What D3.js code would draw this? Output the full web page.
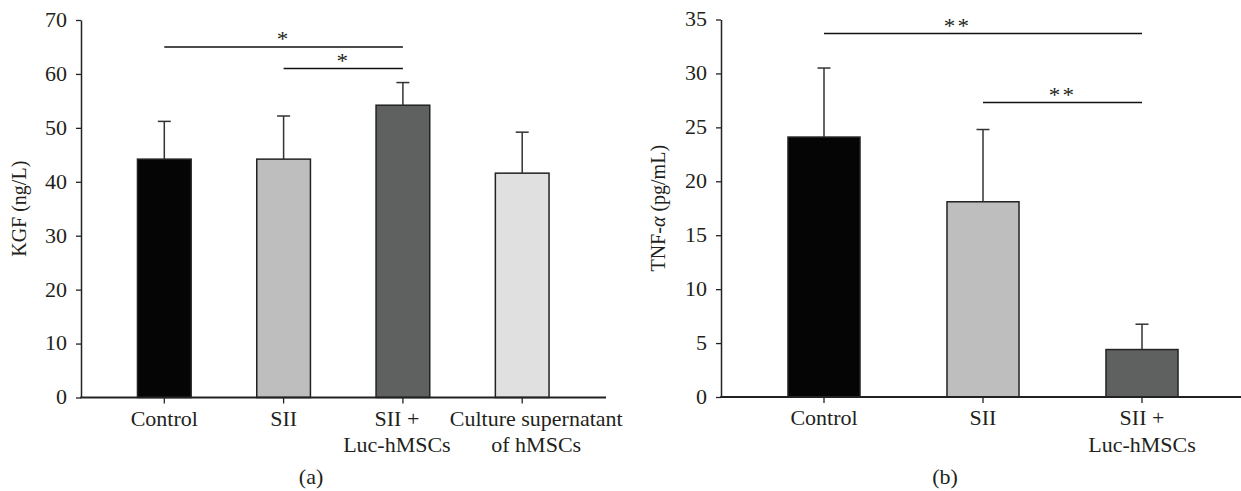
<!DOCTYPE html>
<html>
<head>
<meta charset="utf-8">
<script src="https://cdn.jsdelivr.net/npm/d3@7"></script>
<style>
  body { margin: 0; background: #fff; }
  svg { display: block; }
  text { font-family: "Liberation Serif", "Times New Roman", serif; fill: #231f20; }
</style>
</head>
<body>
<svg id="chart" width="1241" height="491"></svg>
<script>
// panel (a) KGF
const kgfCategories = ["Control", "SII", "SII +\nLuc-hMSCs", "Culture supernatant\nof hMSCs"];
const kgfMeans = [44.2, 44.2, 54.2, 41.6];
const kgfSD = [7.0, 8.0, 4.2, 7.6];
const kgfTicks = [0, 10, 20, 30, 40, 50, 60, 70];
const kgfSig = [
  { from: 0, to: 2, y: 65, label: "*", at: 0.5 },
  { from: 1, to: 2, y: 61, label: "*", at: 0.5 }
];

// panel (b) TNF-alpha
const tnfCategories = ["Control", "SII", "SII +\nLuc-hMSCs"];
const tnfMeans = [24.1, 18.1, 4.4];
const tnfSD = [6.4, 6.7, 2.35];
const tnfTicks = [0, 5, 10, 15, 20, 25, 30, 35];
const tnfSig = [
  { from: 0, to: 2, y: 33.7, label: "**", at: 0.42 },
  { from: 1, to: 2, y: 27.3, label: "**", at: 0.5 }
];

const fills = ["#050505", "#bebebe", "#5f6160", "#e0e0e0"];
const SX = 1.1; // horizontal widening of the serif text

const svg = d3.select("#chart");

function drawPanel(p) {
  const g = svg.append("g");

  const y = d3.scaleLinear().domain([0, p.yMax]).range([p.bottom, p.top]);
  const x = d3.scaleBand()
    .domain(p.categories)
    .range(p.bandRange)
    .paddingInner(p.pad)
    .paddingOuter(p.pad / 2);
  const cx = d => x(d) + x.bandwidth() / 2;

  // bars
  g.selectAll(".bar")
    .data(p.categories)
    .join("rect")
    .attr("class", "bar")
    .attr("x", d => x(d))
    .attr("y", (d, i) => y(p.means[i]))
    .attr("width", x.bandwidth())
    .attr("height", (d, i) => y(0) - y(p.means[i]))
    .attr("fill", (d, i) => fills[i])
    .attr("stroke", "#222")
    .attr("stroke-width", 1.5);

  // error bars (upper only)
  const err = g.selectAll(".err")
    .data(p.categories)
    .join("g")
    .attr("class", "err")
    .attr("stroke", "#333")
    .attr("stroke-width", 1.5);
  err.append("line")
    .attr("x1", d => cx(d)).attr("x2", d => cx(d))
    .attr("y1", (d, i) => y(p.means[i]))
    .attr("y2", (d, i) => y(p.means[i] + p.sd[i]));
  err.append("line")
    .attr("x1", d => cx(d) - 6.5).attr("x2", d => cx(d) + 6.5)
    .attr("y1", (d, i) => y(p.means[i] + p.sd[i]))
    .attr("y2", (d, i) => y(p.means[i] + p.sd[i]));

  // y axis
  const yAxis = g.append("g")
    .attr("transform", `translate(${p.left},0)`)
    .call(d3.axisLeft(y).tickValues(p.ticks).tickSize(5).tickSizeOuter(0).tickPadding(9));
  yAxis.attr("font-family", null).attr("font-size", null);
  yAxis.select(".domain").attr("stroke", "#222").attr("stroke-width", 1.5);
  yAxis.selectAll(".tick line").attr("stroke", "#222").attr("stroke-width", 1.3);
  yAxis.selectAll(".tick text")
    .attr("font-size", 20)
    .attr("fill", "#231f20")
    .attr("x", -14 / SX)
    .attr("transform", `scale(${SX},1)`);

  // x axis
  const xAxis = g.append("g")
    .attr("transform", `translate(0,${y(0)})`)
    .call(d3.axisBottom(x).tickSize(6).tickSizeOuter(0).tickFormat(""));
  xAxis.select(".domain").remove();
  xAxis.selectAll(".tick line").attr("stroke", "#222").attr("stroke-width", 1.3);
  g.append("line")
    .attr("x1", p.left - 0.75).attr("x2", p.right)
    .attr("y1", y(0)).attr("y2", y(0))
    .attr("stroke", "#222").attr("stroke-width", 2);

  // category labels, may be two lines
  p.categories.forEach(c => {
    const t = g.append("text")
      .attr("text-anchor", "middle")
      .attr("font-size", 20)
      .attr("transform", `translate(${cx(c) + (p.labelNudge[c] || 0)},${y(0) + 28}) scale(${SX},1)`);
    c.split("\n").forEach((line, i) => {
      t.append("tspan").attr("x", 0).attr("y", i * 27).text(line);
    });
  });

  // y axis title
  const yt = g.append("text")
    .attr("text-anchor", "middle")
    .attr("font-size", 20)
    .attr("transform", `translate(${p.titleX},${(p.top + p.bottom) / 2}) rotate(-90)`);
  p.title.forEach(part => {
    yt.append("tspan").attr("font-style", part.italic ? "italic" : null).text(part.text);
  });

  // significance brackets
  p.sig.forEach(s => {
    const x1 = cx(p.categories[s.from]);
    const x2 = cx(p.categories[s.to]);
    g.append("line")
      .attr("x1", x1).attr("x2", x2)
      .attr("y1", y(s.y)).attr("y2", y(s.y))
      .attr("stroke", "#111").attr("stroke-width", 1.5);
    g.append("text")
      .attr("text-anchor", "middle")
      .attr("font-size", 21)
      .attr("letter-spacing", 2)
      .attr("transform", `translate(${x1 + (x2 - x1) * s.at},${y(s.y) - 1}) scale(${SX},1)`)
      .text(s.label);
  });

  // panel caption
  g.append("text")
    .attr("text-anchor", "middle")
    .attr("font-size", 20)
    .attr("transform", `translate(${p.captionX},484) scale(${SX},1)`)
    .text(p.caption);
}

drawPanel({
  categories: kgfCategories, means: kgfMeans, sd: kgfSD, ticks: kgfTicks, sig: kgfSig,
  yMax: 70, top: 20, bottom: 397.5, left: 81, right: 606,
  bandRange: [104.65, 581.85], pad: 0.55,
  labelNudge: { "SII +\nLuc-hMSCs": -6, "Culture supernatant\nof hMSCs": 14 },
  title: [{ text: "KGF (ng/L)" }], titleX: 26,
  caption: "(a)", captionX: 311
});

drawPanel({
  categories: tnfCategories, means: tnfMeans, sd: tnfSD, ticks: tnfTicks, sig: tnfSig,
  yMax: 35, top: 19.5, bottom: 397, left: 721, right: 1241,
  bandRange: [744.5, 1221.5], pad: 0.547,
  labelNudge: {},
  title: [{ text: "TNF-" }, { text: "α", italic: true }, { text: " (pg/mL)" }], titleX: 665,
  caption: "(b)", captionX: 945
});
</script>
</body>
</html>
